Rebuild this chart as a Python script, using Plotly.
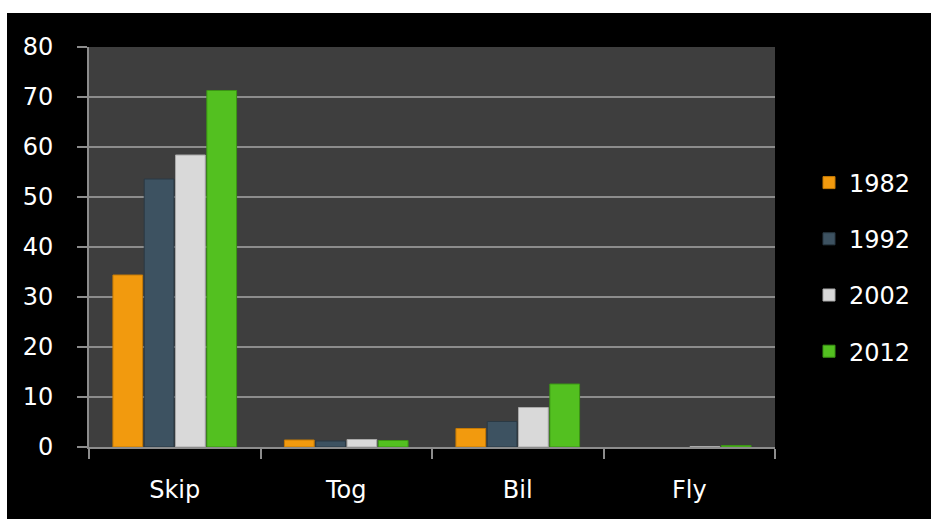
import plotly.graph_objects as go

# Travel mode shares by year
categories = ["Skip", "Tog", "Bil", "Fly"]
years = ["1982", "1992", "2002", "2012"]
values_1982 = [34.4, 1.4, 3.7, 0.0]
values_1992 = [53.6, 1.2, 5.1, 0.0]
values_2002 = [58.4, 1.5, 7.9, 0.1]
values_2012 = [71.3, 1.3, 12.6, 0.3]
y_ticks = [0, 10, 20, 30, 40, 50, 60, 70, 80]

series = [values_1982, values_1992, values_2002, values_2012]
fills = ["#f29a0e", "#3d5261", "#d9d9d9", "#53c020"]
edges = ["#c57a05", "#2a3944", "#a8a8a8", "#3b9514"]

W, H = 931, 519
L, R, T, B = 89, 156, 47, 72
pw, ph = W - L - R, H - T - B

fig = go.Figure()
for i, (yr, vals) in enumerate(zip(years, series)):
    fig.add_trace(go.Bar(
        x=categories, y=vals, name=yr,
        legendgroup=yr,
        marker=dict(color=fills[i],
                    line=dict(color=[edges[i] if v > 0 else "rgba(0,0,0,0)" for v in vals],
                              width=1)),
    ))

FONT = "DejaVu Sans"


def px_x(p):
    return (p - L) / pw


def px_y(p):
    return (H - B - p) / ph


# thin white page edge along the top and left of the black panel
for x0, x1, y0, y1 in [(-5, W + 5, -5, 13), (-5, 7, -5, H + 5)]:
    fig.add_shape(
        type="rect", xref="paper", yref="paper", layer="above",
        x0=px_x(x0), x1=px_x(x1), y0=px_y(y1), y1=px_y(y0),
        fillcolor="white", line=dict(width=0),
    )

fig.update_layout(
    width=W, height=H,
    margin=dict(l=L, r=R, t=T, b=B, pad=0),
    paper_bgcolor="black",
    plot_bgcolor="#3e3e3e",
    barmode="group",
    bargap=0.27,
    bargroupgap=0.05,
    font=dict(family=FONT, color="white", size=24),
    showlegend=True,
    legend=dict(
        x=px_x(809), xanchor="left",
        y=px_y(267), yanchor="middle",
        bgcolor="rgba(0,0,0,0)",
        font=dict(family=FONT, size=24, color="white"),
        tracegroupgap=22,
        traceorder="grouped",
    ),
    xaxis=dict(
        type="category",
        showgrid=False,
        showline=True, linecolor="#8c8c8c", linewidth=2,
        ticks="outside", tickson="boundaries", ticklen=10,
        tickcolor="#8c8c8c", tickwidth=2,
        ticklabelstandoff=20,
        tickfont=dict(family=FONT, size=24, color="white"),
    ),
    yaxis=dict(
        range=[0, 80],
        tickvals=y_ticks,
        showgrid=True, gridcolor="#8c8c8c", gridwidth=1.5,
        zeroline=False,
        showline=True, linecolor="#8c8c8c", linewidth=2,
        ticks="outside", ticklen=10, tickcolor="#8c8c8c", tickwidth=2,
        ticklabelstandoff=19,
        tickfont=dict(family=FONT, size=24, color="white"),
    ),
)

fig.write_html("out.html")
